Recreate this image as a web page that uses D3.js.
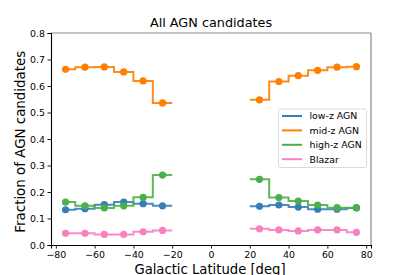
<!DOCTYPE html>
<html><head><meta charset="utf-8">
<script src="https://cdn.jsdelivr.net/npm/d3@7"></script>
<style>body{margin:0;background:#fff}svg{display:block;font-family:"DejaVu Sans",sans-serif}</style>
</head><body><svg id="c" width="412" height="275"></svg>
<script>
const leftCenters = [-75, -65, -55, -45, -35, -25];
const rightCenters = [25, 35, 45, 55, 65, 75];
const leftEdges = [-75, -70, -60, -50, -40, -30, -20];
const rightEdges = [20, 30, 40, 50, 60, 70, 75];
const seriesNames = ["low-z AGN", "mid-z AGN", "high-z AGN", "Blazar"];
const seriesColors = ["#377eb8", "#ff7f00", "#4daf4a", "#f781bf"];
const lowzLeft = [0.133, 0.137, 0.152, 0.162, 0.156, 0.148];
const lowzRight = [0.146, 0.151, 0.143, 0.135, 0.135, 0.140];
const midzLeft = [0.663, 0.671, 0.672, 0.653, 0.619, 0.536];
const midzRight = [0.548, 0.617, 0.639, 0.659, 0.671, 0.673];
const highzLeft = [0.162, 0.148, 0.140, 0.148, 0.180, 0.264];
const highzRight = [0.248, 0.179, 0.166, 0.151, 0.141, 0.141];
const blazarLeft = [0.044, 0.044, 0.040, 0.040, 0.050, 0.055];
const blazarRight = [0.061, 0.057, 0.053, 0.057, 0.057, 0.048];
const yTicks = [0, 0.1, 0.2, 0.3, 0.4, 0.5, 0.6, 0.7, 0.8];
const xTicks = [-80, -60, -40, -20, 0, 20, 40, 60, 80];

const series = [
  {name: seriesNames[0], color: seriesColors[0], L: lowzLeft, R: lowzRight},
  {name: seriesNames[1], color: seriesColors[1], L: midzLeft, R: midzRight},
  {name: seriesNames[2], color: seriesColors[2], L: highzLeft, R: highzRight},
  {name: seriesNames[3], color: seriesColors[3], L: blazarLeft, R: blazarRight}
];

const svg = d3.select("#c");
const m = {l: 51, r: 371, t: 33, b: 245};
const x = d3.scaleLinear().domain([-82.5, 82.5]).range([m.l, m.r]);
const y = d3.scaleLinear().domain([0, 0.8]).range([m.b, m.t]);

const fmt = d => (d < 0 ? "\u2212" + Math.abs(d) : String(d));

// spines
svg.append("line").attr("x1", m.l).attr("x2", m.r).attr("y1", m.t).attr("y2", m.t).attr("stroke", "#888").attr("stroke-width", 1.2);
svg.append("line").attr("x1", m.r).attr("x2", m.r).attr("y1", m.t).attr("y2", m.b).attr("stroke", "#888").attr("stroke-width", 1.2);

const gx = svg.append("g").attr("transform", `translate(0,${m.b})`)
  .call(d3.axisBottom(x).tickValues(xTicks).tickFormat(fmt).tickSize(3.5).tickPadding(2.5));
const gy = svg.append("g").attr("transform", `translate(${m.l},0)`)
  .call(d3.axisLeft(y).tickValues(yTicks).tickFormat(d3.format(".1f")).tickSize(3.5).tickPadding(2.5));
[gx, gy].forEach(g => {
  g.selectAll("text").attr("font-size", 9.4).attr("fill", "#000").attr("font-family", "DejaVu Sans");
  g.select(".domain").attr("stroke", "#000").attr("stroke-width", 1.1);
  g.selectAll(".tick line").attr("stroke", "#000").attr("stroke-width", 0.9);
});

function stepPath(edges, vals) {
  const pts = [];
  vals.forEach((v, i) => { pts.push([edges[i], v]); pts.push([edges[i + 1], v]); });
  return d3.line().x(d => x(d[0])).y(d => y(d[1]))(pts);
}

const plot = svg.append("g");
series.forEach(s => {
  [[leftEdges, leftCenters, s.L], [rightEdges, rightCenters, s.R]].forEach(([edges, centers, vals]) => {
    plot.append("path").attr("d", stepPath(edges, vals)).attr("fill", "none")
      .attr("stroke", s.color).attr("stroke-width", 2).attr("opacity", 0.9);
    plot.selectAll(null).data(centers).enter().append("circle")
      .attr("cx", d => x(d)).attr("cy", (d, i) => y(vals[i])).attr("r", 3.6).attr("fill", s.color);
  });
});

// title & labels
svg.append("text").attr("x", 211).attr("y", 26.8).attr("text-anchor", "middle")
  .attr("font-size", 12.8).text("All AGN candidates");
svg.append("text").attr("x", 210).attr("y", 273.8).attr("text-anchor", "middle")
  .attr("font-size", 13.2).text("Galactic Latitude [deg]");
svg.append("text").attr("transform", `translate(25.3,141.7) rotate(-90)`).attr("text-anchor", "middle")
  .attr("font-size", 13.4).text("Fraction of AGN candidates");

// legend
const lg = svg.append("g");
lg.append("rect").attr("x", 278.5).attr("y", 109).attr("width", 88).attr("height", 58.5).attr("rx", 2.5)
  .attr("fill", "#fff").attr("fill-opacity", 0.8).attr("stroke", "#d6d6d6").attr("stroke-width", 0.9);
series.forEach((s, i) => {
  const yy = 116 + i * 14.4;
  lg.append("line").attr("x1", 282).attr("x2", 302).attr("y1", yy).attr("y2", yy).attr("stroke", s.color).attr("stroke-width", 2);
  lg.append("text").attr("x", 309.5).attr("y", yy + 3.4).attr("font-size", 9.4).text(s.name);
});
</script></body></html>
